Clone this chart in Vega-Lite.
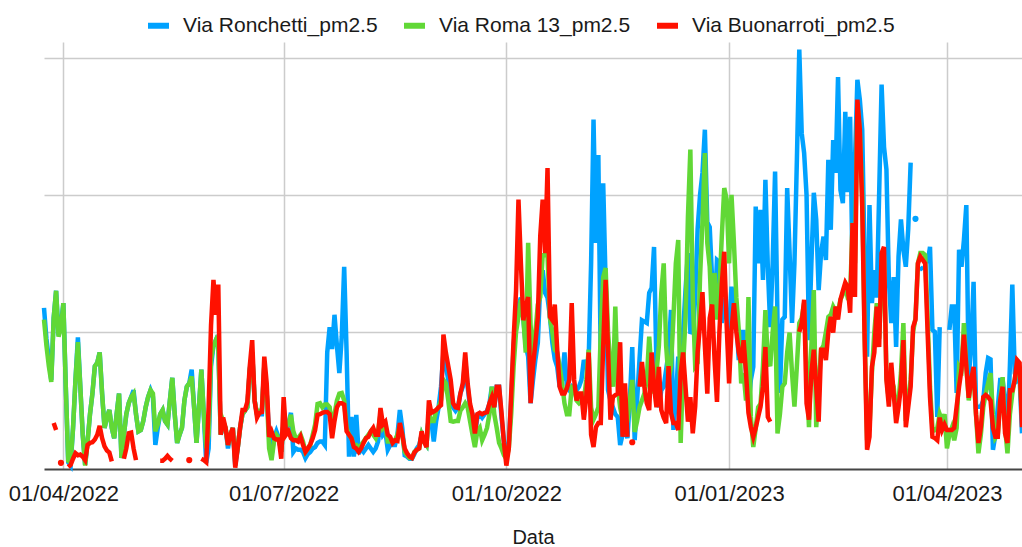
{
"$schema": "https://vega.github.io/schema/vega-lite/v6.json",
"width": 978, "height": 427,
"autosize": {"type": "none"},
"padding": {"left": 44, "top": 42, "right": 0, "bottom": 78},
"background": "white",
"config": {"view": {"stroke": null}, "font": "Liberation Sans"},
"datasets": {
"names": [{"k":"a","name":"Via Ronchetti_pm2.5"},{"k":"b","name":"Via Roma 13_pm2.5"},{"k":"c","name":"Via Buonarroti_pm2.5"}],
"pm": [
{"d":"2022-03-24","a":23.5,"b":21.8,"c":null},
{"d":"2022-03-25","a":19,"b":18,"c":null},
{"d":"2022-03-26","a":16,"b":15,"c":null},
{"d":"2022-03-27","a":13,"b":12.7,"c":null},
{"d":"2022-03-28","a":22,"b":22,"c":6.7},
{"d":"2022-03-29","a":26,"b":26,"c":5.7},
{"d":"2022-03-30","a":19.5,"b":19.3,"c":null},
{"d":"2022-03-31","a":21,"b":20.5,"c":0.9},
{"d":"2022-04-01","a":24.2,"b":24.2,"c":null},
{"d":"2022-04-02","a":12,"b":12,"c":null},
{"d":"2022-04-03","a":1,"b":1.2,"c":0.3},
{"d":"2022-04-04","a":0.5,"b":1,"c":0.6},
{"d":"2022-04-05","a":6,"b":6,"c":1.5},
{"d":"2022-04-06","a":13,"b":13,"c":2.3},
{"d":"2022-04-07","a":19.2,"b":18.5,"c":2},
{"d":"2022-04-08","a":12,"b":12,"c":2.1},
{"d":"2022-04-09","a":5,"b":5,"c":1.8},
{"d":"2022-04-10","a":0.6,"b":0.5,"c":1.3},
{"d":"2022-04-11","a":4,"b":4,"c":3.5},
{"d":"2022-04-12","a":8,"b":8,"c":3.8},
{"d":"2022-04-13","a":11,"b":11,"c":3.9},
{"d":"2022-04-14","a":15,"b":15,"c":4.3},
{"d":"2022-04-15","a":15.5,"b":15.5,"c":5},
{"d":"2022-04-16","a":17,"b":17,"c":6.3},
{"d":"2022-04-17","a":11,"b":11,"c":4.5},
{"d":"2022-04-18","a":6,"b":6,"c":3.3},
{"d":"2022-04-19","a":7.5,"b":7.5,"c":2.7},
{"d":"2022-04-20","a":8.6,"b":8.6,"c":2.4},
{"d":"2022-04-21","a":6,"b":6,"c":1.1},
{"d":"2022-04-22","a":4.5,"b":4.5,"c":null},
{"d":"2022-04-23","a":8,"b":8,"c":null},
{"d":"2022-04-24","a":11,"b":11,"c":null},
{"d":"2022-04-25","a":1.6,"b":1.6,"c":null},
{"d":"2022-04-26","a":5,"b":5,"c":1.5},
{"d":"2022-04-27","a":8,"b":8,"c":3},
{"d":"2022-04-28","a":9.6,"b":9.6,"c":5.2},
{"d":"2022-04-29","a":10.5,"b":10.5,"c":5.3},
{"d":"2022-04-30","a":11.5,"b":11,"c":3},
{"d":"2022-05-01","a":8,"b":8,"c":1.3},
{"d":"2022-05-02","a":5.5,"b":5.5,"c":null},
{"d":"2022-05-03","a":5.7,"b":5.7,"c":null},
{"d":"2022-05-04","a":7,"b":7,"c":null},
{"d":"2022-05-05","a":9,"b":9,"c":null},
{"d":"2022-05-06","a":10.5,"b":10.5,"c":null},
{"d":"2022-05-07","a":11.5,"b":11.5,"c":null},
{"d":"2022-05-08","a":10.5,"b":11,"c":null},
{"d":"2022-05-09","a":3.5,"b":5.5,"c":null},
{"d":"2022-05-10","a":6,"b":6.5,"c":null},
{"d":"2022-05-11","a":8,"b":8,"c":1.2},
{"d":"2022-05-12","a":8.6,"b":8.6,"c":1.2},
{"d":"2022-05-13","a":7,"b":7,"c":1.5},
{"d":"2022-05-14","a":6.5,"b":6.5,"c":1.9},
{"d":"2022-05-15","a":10,"b":10,"c":1.5},
{"d":"2022-05-16","a":13.3,"b":13.3,"c":1.2},
{"d":"2022-05-17","a":8,"b":8,"c":null},
{"d":"2022-05-18","a":3.8,"b":3.8,"c":null},
{"d":"2022-05-19","a":5,"b":5,"c":null},
{"d":"2022-05-20","a":6,"b":6,"c":null},
{"d":"2022-05-21","a":10,"b":10,"c":null},
{"d":"2022-05-22","a":12,"b":12,"c":null},
{"d":"2022-05-23","a":12.5,"b":12.5,"c":1.3},
{"d":"2022-05-24","a":14.5,"b":13.5,"c":null},
{"d":"2022-05-25","a":9,"b":9,"c":null},
{"d":"2022-05-26","a":3.8,"b":3.8,"c":null},
{"d":"2022-05-27","a":9,"b":9,"c":null},
{"d":"2022-05-28","a":14.5,"b":14.5,"c":1.5},
{"d":"2022-05-29","a":8,"b":8,"c":1.3},
{"d":"2022-05-30","a":0.9,"b":3,"c":1},
{"d":"2022-05-31","a":3,"b":5,"c":9},
{"d":"2022-06-01","a":15,"b":16,"c":21},
{"d":"2022-06-02","a":18,"b":18,"c":27.6},
{"d":"2022-06-03","a":18.8,"b":18.8,"c":22.5},
{"d":"2022-06-04","a":17.8,"b":17.8,"c":26.9},
{"d":"2022-06-05","a":5,"b":5,"c":5},
{"d":"2022-06-06","a":6.5,"b":7,"c":7.5},
{"d":"2022-06-07","a":6,"b":6,"c":6},
{"d":"2022-06-08","a":3,"b":3.5,"c":3.5},
{"d":"2022-06-09","a":5,"b":5,"c":5},
{"d":"2022-06-10","a":6,"b":6,"c":6},
{"d":"2022-06-11","a":0.5,"b":1,"c":0.2},
{"d":"2022-06-12","a":3,"b":3,"c":3},
{"d":"2022-06-13","a":6,"b":6,"c":6},
{"d":"2022-06-14","a":8,"b":8,"c":8.6},
{"d":"2022-06-15","a":8.5,"b":8.5,"c":8.6},
{"d":"2022-06-16","a":9,"b":9,"c":9.8},
{"d":"2022-06-17","a":14.5,"b":14.5,"c":15},
{"d":"2022-06-18","a":17,"b":17,"c":18.8},
{"d":"2022-06-19","a":10,"b":10,"c":10},
{"d":"2022-06-20","a":8,"b":8,"c":7.5},
{"d":"2022-06-21","a":8,"b":8.5,"c":8.2},
{"d":"2022-06-22","a":8,"b":8.5,"c":8.3},
{"d":"2022-06-23","a":15,"b":15,"c":16.4},
{"d":"2022-06-24","a":11,"b":11,"c":12.5},
{"d":"2022-06-25","a":5,"b":3,"c":4.7},
{"d":"2022-06-26","a":2,"b":1.3,"c":5.5},
{"d":"2022-06-27","a":4.5,"b":4,"c":4.5},
{"d":"2022-06-28","a":5.5,"b":5,"c":4.3},
{"d":"2022-06-29","a":4.5,"b":4.5,"c":4.3},
{"d":"2022-06-30","a":2.5,"b":2.5,"c":1.5},
{"d":"2022-07-01","a":7,"b":7,"c":10.5},
{"d":"2022-07-02","a":6,"b":6.5,"c":5},
{"d":"2022-07-03","a":6.5,"b":6.5,"c":5.5},
{"d":"2022-07-04","a":8.2,"b":7.9,"c":4.5},
{"d":"2022-07-05","a":2.5,"b":5.5,"c":4.2},
{"d":"2022-07-06","a":3,"b":4.5,"c":4.2},
{"d":"2022-07-07","a":2.8,"b":4.5,"c":4},
{"d":"2022-07-08","a":2.8,"b":5,"c":4.7},
{"d":"2022-07-09","a":2.5,"b":4,"c":3.5},
{"d":"2022-07-10","a":1.6,"b":2.5,"c":2.5},
{"d":"2022-07-11","a":2.2,"b":3,"c":3},
{"d":"2022-07-12","a":2.5,"b":3.5,"c":3.6},
{"d":"2022-07-13","a":3,"b":5,"c":4.5},
{"d":"2022-07-14","a":3.2,"b":6.5,"c":5.7},
{"d":"2022-07-15","a":3.8,"b":9.5,"c":7.9},
{"d":"2022-07-16","a":4,"b":9.6,"c":8},
{"d":"2022-07-17","a":4,"b":9,"c":8.2},
{"d":"2022-07-18","a":3.5,"b":9.4,"c":8.3},
{"d":"2022-07-19","a":17,"b":9.4,"c":8.3},
{"d":"2022-07-20","a":20.7,"b":9,"c":8},
{"d":"2022-07-21","a":17.5,"b":6,"c":4.5},
{"d":"2022-07-22","a":22.5,"b":8,"c":7},
{"d":"2022-07-23","a":18,"b":10,"c":9},
{"d":"2022-07-24","a":14,"b":11,"c":9.6},
{"d":"2022-07-25","a":19.3,"b":11.1,"c":9.6},
{"d":"2022-07-26","a":29.5,"b":10,"c":9.4},
{"d":"2022-07-27","a":17,"b":6,"c":5.5},
{"d":"2022-07-28","a":1.8,"b":5,"c":5},
{"d":"2022-07-29","a":7.6,"b":4.5,"c":4.5},
{"d":"2022-07-30","a":1.8,"b":3.5,"c":3.2},
{"d":"2022-07-31","a":7.9,"b":3.5,"c":3},
{"d":"2022-08-01","a":2.2,"b":3,"c":2.5},
{"d":"2022-08-02","a":3,"b":3.5,"c":3},
{"d":"2022-08-03","a":2.5,"b":4,"c":3.8},
{"d":"2022-08-04","a":3,"b":4.5,"c":4.5},
{"d":"2022-08-05","a":3.5,"b":5,"c":4.7},
{"d":"2022-08-06","a":3,"b":5.5,"c":5.5},
{"d":"2022-08-07","a":2.5,"b":5,"c":6},
{"d":"2022-08-08","a":3,"b":4.5,"c":5},
{"d":"2022-08-09","a":4,"b":5.5,"c":5},
{"d":"2022-08-10","a":7.2,"b":8,"c":8.9},
{"d":"2022-08-11","a":5,"b":6,"c":6.5},
{"d":"2022-08-12","a":5.5,"b":6.5,"c":6.9},
{"d":"2022-08-13","a":2.8,"b":4,"c":5},
{"d":"2022-08-14","a":3.5,"b":4,"c":4.7},
{"d":"2022-08-15","a":3.5,"b":4,"c":3.8},
{"d":"2022-08-16","a":3.5,"b":4.2,"c":4.2},
{"d":"2022-08-17","a":5,"b":5,"c":4.1},
{"d":"2022-08-18","a":8.6,"b":6.5,"c":6.7},
{"d":"2022-08-19","a":6,"b":5,"c":5},
{"d":"2022-08-20","a":2,"b":2.5,"c":3},
{"d":"2022-08-21","a":1.8,"b":2,"c":2.3},
{"d":"2022-08-22","a":1.5,"b":1.6,"c":1.8},
{"d":"2022-08-23","a":1.5,"b":1.6,"c":1.6},
{"d":"2022-08-24","a":2.2,"b":2.5,"c":2.4},
{"d":"2022-08-25","a":3,"b":2.8,"c":2.8},
{"d":"2022-08-26","a":3.5,"b":3,"c":3},
{"d":"2022-08-27","a":5,"b":5,"c":5.5},
{"d":"2022-08-28","a":4,"b":4,"c":4},
{"d":"2022-08-29","a":3.5,"b":3.5,"c":3.2},
{"d":"2022-08-30","a":8,"b":8,"c":10},
{"d":"2022-08-31","a":7,"b":7,"c":8.2},
{"d":"2022-09-01","a":4,"b":7,"c":8.4},
{"d":"2022-09-02","a":7,"b":8.5,"c":8.6},
{"d":"2022-09-03","a":9,"b":9,"c":9},
{"d":"2022-09-04","a":12,"b":10,"c":9.3},
{"d":"2022-09-05","a":17,"b":13,"c":19.6},
{"d":"2022-09-06","a":15,"b":12.5,"c":17},
{"d":"2022-09-07","a":13,"b":10,"c":15},
{"d":"2022-09-08","a":11,"b":7,"c":13},
{"d":"2022-09-09","a":9,"b":6.9,"c":9.6},
{"d":"2022-09-10","a":8.5,"b":7,"c":9},
{"d":"2022-09-11","a":9,"b":7,"c":8.9},
{"d":"2022-09-12","a":11,"b":8.5,"c":11},
{"d":"2022-09-13","a":12,"b":9,"c":12.5},
{"d":"2022-09-14","a":16,"b":9.6,"c":17},
{"d":"2022-09-15","a":12,"b":9,"c":12.5},
{"d":"2022-09-16","a":9,"b":7,"c":9.5},
{"d":"2022-09-17","a":8,"b":5,"c":8},
{"d":"2022-09-18","a":5,"b":3.2,"c":5.2},
{"d":"2022-09-19","a":7.5,"b":5.5,"c":8},
{"d":"2022-09-20","a":8,"b":6,"c":8.2},
{"d":"2022-09-21","a":7.5,"b":4.2,"c":8},
{"d":"2022-09-22","a":8,"b":5,"c":8.2},
{"d":"2022-09-23","a":8.5,"b":6,"c":8.3},
{"d":"2022-09-24","a":9.5,"b":8,"c":9.6},
{"d":"2022-09-25","a":12,"b":12,"c":10.5},
{"d":"2022-09-26","a":9,"b":8,"c":9},
{"d":"2022-09-27","a":12,"b":6,"c":12},
{"d":"2022-09-28","a":12,"b":3.8,"c":12},
{"d":"2022-09-29","a":7.5,"b":3,"c":8.2},
{"d":"2022-09-30","a":4,"b":2,"c":3.8},
{"d":"2022-10-01","a":1.5,"b":1.5,"c":0.5},
{"d":"2022-10-02","a":4,"b":3,"c":3},
{"d":"2022-10-03","a":10,"b":8,"c":11},
{"d":"2022-10-04","a":18,"b":15,"c":19},
{"d":"2022-10-05","a":22,"b":20,"c":26},
{"d":"2022-10-06","a":24,"b":22.2,"c":39.3},
{"d":"2022-10-07","a":25,"b":24.7,"c":30},
{"d":"2022-10-08","a":22,"b":22,"c":21.7},
{"d":"2022-10-09","a":18,"b":17,"c":23.7},
{"d":"2022-10-10","a":16.4,"b":33,"c":25.1},
{"d":"2022-10-11","a":9.6,"b":21,"c":9.6},
{"d":"2022-10-12","a":13,"b":16.4,"c":15},
{"d":"2022-10-13","a":16,"b":20,"c":18.4},
{"d":"2022-10-14","a":18.4,"b":24,"c":22.2},
{"d":"2022-10-15","a":27,"b":25.1,"c":34},
{"d":"2022-10-16","a":29,"b":31.2,"c":39.3},
{"d":"2022-10-17","a":25.7,"b":31.2,"c":31.5},
{"d":"2022-10-18","a":25,"b":31.2,"c":43.9},
{"d":"2022-10-19","a":22.2,"b":22,"c":22.2},
{"d":"2022-10-20","a":18.4,"b":20,"c":21.7},
{"d":"2022-10-21","a":16,"b":17.4,"c":24},
{"d":"2022-10-22","a":14.9,"b":17,"c":17.4},
{"d":"2022-10-23","a":12,"b":15,"c":12},
{"d":"2022-10-24","a":13,"b":12.5,"c":11},
{"d":"2022-10-25","a":17,"b":9.6,"c":11},
{"d":"2022-10-26","a":12,"b":8,"c":11.8},
{"d":"2022-10-27","a":11.5,"b":8,"c":13},
{"d":"2022-10-28","a":12,"b":12,"c":24.2},
{"d":"2022-10-29","a":11.5,"b":12,"c":13},
{"d":"2022-10-30","a":11.5,"b":10,"c":10},
{"d":"2022-10-31","a":12,"b":9.6,"c":11},
{"d":"2022-11-01","a":13,"b":10,"c":11},
{"d":"2022-11-02","a":15.9,"b":10,"c":7.2},
{"d":"2022-11-03","a":15,"b":13,"c":10.5},
{"d":"2022-11-04","a":16,"b":17.4,"c":17},
{"d":"2022-11-05","a":30,"b":9,"c":5},
{"d":"2022-11-06","a":51,"b":7.2,"c":3.2},
{"d":"2022-11-07","a":33,"b":8,"c":6.1},
{"d":"2022-11-08","a":45.8,"b":9,"c":6.7},
{"d":"2022-11-09","a":14.9,"b":20,"c":6.7},
{"d":"2022-11-10","a":41.7,"b":28,"c":18},
{"d":"2022-11-11","a":27.2,"b":29.3,"c":27.6},
{"d":"2022-11-12","a":11.5,"b":20,"c":17.4},
{"d":"2022-11-13","a":10,"b":14.9,"c":7.2},
{"d":"2022-11-14","a":9,"b":12,"c":10.5},
{"d":"2022-11-15","a":8,"b":23.7,"c":10.8},
{"d":"2022-11-16","a":7.6,"b":12,"c":11},
{"d":"2022-11-17","a":3.5,"b":9,"c":18.5},
{"d":"2022-11-18","a":5,"b":7.2,"c":4.7},
{"d":"2022-11-19","a":6,"b":5.7,"c":12.5},
{"d":"2022-11-20","a":4.5,"b":7,"c":4.7},
{"d":"2022-11-21","a":10,"b":10,"c":null},
{"d":"2022-11-22","a":17.8,"b":13,"c":3.9},
{"d":"2022-11-23","a":4.2,"b":5.4,"c":null},
{"d":"2022-11-24","a":10,"b":7,"c":null},
{"d":"2022-11-25","a":16,"b":9,"c":12},
{"d":"2022-11-26","a":21.7,"b":10,"c":15.6},
{"d":"2022-11-27","a":21.5,"b":11,"c":12},
{"d":"2022-11-28","a":21.3,"b":13,"c":9.6},
{"d":"2022-11-29","a":25.7,"b":19.3,"c":8.6},
{"d":"2022-11-30","a":26.4,"b":14,"c":17},
{"d":"2022-12-01","a":32.4,"b":11,"c":12},
{"d":"2022-12-02","a":14.9,"b":14,"c":9},
{"d":"2022-12-03","a":9,"b":18,"c":14.9},
{"d":"2022-12-04","a":11.5,"b":25.7,"c":8.6},
{"d":"2022-12-05","a":12,"b":30,"c":7.5},
{"d":"2022-12-06","a":14.5,"b":18,"c":6.7},
{"d":"2022-12-07","a":17,"b":13,"c":15},
{"d":"2022-12-08","a":23.2,"b":15,"c":8.2},
{"d":"2022-12-09","a":5.7,"b":22,"c":6.7},
{"d":"2022-12-10","a":10,"b":30,"c":6.7},
{"d":"2022-12-11","a":16.4,"b":33.4,"c":5.7},
{"d":"2022-12-12","a":9,"b":3.8,"c":14},
{"d":"2022-12-13","a":20,"b":15,"c":17},
{"d":"2022-12-14","a":26.1,"b":22,"c":12},
{"d":"2022-12-15","a":31.5,"b":36.8,"c":6.9},
{"d":"2022-12-16","a":20,"b":46.6,"c":10.5},
{"d":"2022-12-17","a":19.9,"b":25,"c":5.2},
{"d":"2022-12-18","a":25,"b":15,"c":9.1},
{"d":"2022-12-19","a":35,"b":15.5,"c":17},
{"d":"2022-12-20","a":40,"b":28,"c":21},
{"d":"2022-12-21","a":43.2,"b":36,"c":25.8},
{"d":"2022-12-22","a":49.5,"b":46.1,"c":18},
{"d":"2022-12-23","a":36,"b":33,"c":11},
{"d":"2022-12-24","a":35.3,"b":29.5,"c":22},
{"d":"2022-12-25","a":27.6,"b":20.7,"c":24},
{"d":"2022-12-26","a":22.8,"b":28.6,"c":16},
{"d":"2022-12-27","a":30.5,"b":21.8,"c":9.8},
{"d":"2022-12-28","a":30.2,"b":26,"c":20},
{"d":"2022-12-29","a":21.3,"b":34,"c":27},
{"d":"2022-12-30","a":25,"b":41,"c":31.7},
{"d":"2022-12-31","a":22,"b":39.3,"c":21},
{"d":"2023-01-01","a":20.3,"b":30,"c":12.5},
{"d":"2023-01-02","a":26.6,"b":40,"c":20.3},
{"d":"2023-01-03","a":24,"b":33,"c":24.2},
{"d":"2023-01-04","a":21.8,"b":25,"c":20},
{"d":"2023-01-05","a":15.9,"b":20.3,"c":17},
{"d":"2023-01-06","a":20,"b":12.5,"c":15.5},
{"d":"2023-01-07","a":20,"b":14,"c":18.8},
{"d":"2023-01-08","a":14,"b":10,"c":14},
{"d":"2023-01-09","a":9.1,"b":25.1,"c":8.2},
{"d":"2023-01-10","a":13,"b":7.6,"c":6.1},
{"d":"2023-01-11","a":14.9,"b":3.2,"c":4.7},
{"d":"2023-01-12","a":38.3,"b":6,"c":6},
{"d":"2023-01-13","a":30,"b":9,"c":7.6},
{"d":"2023-01-14","a":37.8,"b":9.5,"c":9.1},
{"d":"2023-01-15","a":27.6,"b":15,"c":12},
{"d":"2023-01-16","a":42.2,"b":23.2,"c":17.8},
{"d":"2023-01-17","a":29.5,"b":15.9,"c":7.6},
{"d":"2023-01-18","a":20.7,"b":15,"c":6.9},
{"d":"2023-01-19","a":30,"b":20,"c":null},
{"d":"2023-01-20","a":43.4,"b":23.7,"c":null},
{"d":"2023-01-21","a":21.8,"b":5.2,"c":null},
{"d":"2023-01-22","a":11.1,"b":8,"c":null},
{"d":"2023-01-23","a":21.8,"b":12,"c":null},
{"d":"2023-01-24","a":22.2,"b":12.5,"c":null},
{"d":"2023-01-25","a":41,"b":17,"c":null},
{"d":"2023-01-26","a":31.5,"b":19.9,"c":null},
{"d":"2023-01-27","a":21.3,"b":14,"c":null},
{"d":"2023-01-28","a":30,"b":9.1,"c":null},
{"d":"2023-01-29","a":45,"b":15,"c":null},
{"d":"2023-01-30","a":61.2,"b":21.3,"c":20},
{"d":"2023-01-31","a":49,"b":22,"c":21.3},
{"d":"2023-02-01","a":46.1,"b":24.2,"c":24.7},
{"d":"2023-02-02","a":40,"b":15,"c":9.6},
{"d":"2023-02-03","a":18.8,"b":6.1,"c":7.2},
{"d":"2023-02-04","a":30,"b":18,"c":14},
{"d":"2023-02-05","a":40.3,"b":26.1,"c":17.4},
{"d":"2023-02-06","a":36.4,"b":6.1,"c":12},
{"d":"2023-02-07","a":26.1,"b":12,"c":6.9},
{"d":"2023-02-08","a":31.5,"b":17.4,"c":17.4},
{"d":"2023-02-09","a":33.9,"b":18,"c":17.4},
{"d":"2023-02-10","a":30.5,"b":20,"c":15.9},
{"d":"2023-02-11","a":45.1,"b":22.2,"c":20},
{"d":"2023-02-12","a":34.9,"b":22.5,"c":22.2},
{"d":"2023-02-13","a":48,"b":23.7,"c":19.9},
{"d":"2023-02-14","a":43.2,"b":23,"c":23.7},
{"d":"2023-02-15","a":57.2,"b":23,"c":21.8},
{"d":"2023-02-16","a":40.7,"b":24.7,"c":24.7},
{"d":"2023-02-17","a":38.8,"b":25.5,"c":26},
{"d":"2023-02-18","a":52.1,"b":26.6,"c":27.2},
{"d":"2023-02-19","a":40.4,"b":25,"c":26.6},
{"d":"2023-02-20","a":51.4,"b":25.1,"c":22.8},
{"d":"2023-02-21","a":29,"b":35.9,"c":35.9},
{"d":"2023-02-22","a":45,"b":30,"c":25.1},
{"d":"2023-02-23","a":56.8,"b":53,"c":53.9},
{"d":"2023-02-24","a":53.9,"b":49.5,"c":49.5},
{"d":"2023-02-25","a":49.5,"b":40,"c":38.3},
{"d":"2023-02-26","a":30,"b":20,"c":18.8},
{"d":"2023-02-27","a":16.4,"b":4.2,"c":2.8},
{"d":"2023-02-28","a":38.5,"b":6,"c":4.7},
{"d":"2023-03-01","a":24.2,"b":14,"c":14.9},
{"d":"2023-03-02","a":29,"b":20,"c":17},
{"d":"2023-03-03","a":25,"b":24.2,"c":23.7},
{"d":"2023-03-04","a":40.3,"b":19,"c":17.8},
{"d":"2023-03-05","a":56.1,"b":28,"c":31.5},
{"d":"2023-03-06","a":47,"b":31,"c":32.4},
{"d":"2023-03-07","a":43.7,"b":13.4,"c":13},
{"d":"2023-03-08","a":27.6,"b":10,"c":9.1},
{"d":"2023-03-09","a":21.3,"b":13,"c":15.5},
{"d":"2023-03-10","a":28,"b":12,"c":11},
{"d":"2023-03-11","a":17.8,"b":8,"c":6.7},
{"d":"2023-03-12","a":31,"b":10,"c":9},
{"d":"2023-03-13","a":36.4,"b":14,"c":12},
{"d":"2023-03-14","a":32,"b":21.3,"c":18.8},
{"d":"2023-03-15","a":29.5,"b":7,"c":6.1},
{"d":"2023-03-16","a":35,"b":10,"c":9},
{"d":"2023-03-17","a":44.7,"b":13,"c":12},
{"d":"2023-03-18","a":null,"b":20,"c":20.7},
{"d":"2023-03-19","a":36.5,"b":22,"c":21.8},
{"d":"2023-03-20","a":null,"b":30,"c":30},
{"d":"2023-03-21","a":29.5,"b":31.5,"c":31},
{"d":"2023-03-22","a":29,"b":31.5,"c":30.5},
{"d":"2023-03-23","a":null,"b":31.2,"c":30},
{"d":"2023-03-24","a":30,"b":22,"c":20},
{"d":"2023-03-25","a":32.4,"b":12,"c":10.5},
{"d":"2023-03-26","a":20.3,"b":6,"c":4.7},
{"d":"2023-03-27","a":20,"b":5.7,"c":4.5},
{"d":"2023-03-28","a":7.6,"b":6,"c":4.2},
{"d":"2023-03-29","a":20.7,"b":8,"c":7.5},
{"d":"2023-03-30","a":null,"b":7,"c":5.7},
{"d":"2023-03-31","a":null,"b":8,"c":6.5},
{"d":"2023-04-01","a":null,"b":3,"c":5.7},
{"d":"2023-04-02","a":20.3,"b":5,"c":5.7},
{"d":"2023-04-03","a":23.7,"b":6,"c":5.7},
{"d":"2023-04-04","a":23.7,"b":4.2,"c":6},
{"d":"2023-04-05","a":11.1,"b":6,"c":9.1},
{"d":"2023-04-06","a":32,"b":15,"c":12},
{"d":"2023-04-07","a":29.5,"b":14.5,"c":14.5},
{"d":"2023-04-08","a":33.4,"b":21.3,"c":19.6},
{"d":"2023-04-09","a":38.5,"b":15,"c":15},
{"d":"2023-04-10","a":13.4,"b":10,"c":10.4},
{"d":"2023-04-11","a":18,"b":13,"c":13},
{"d":"2023-04-12","a":27.3,"b":14,"c":14.9},
{"d":"2023-04-13","a":9.1,"b":8,"c":8},
{"d":"2023-04-14","a":9.1,"b":2.3,"c":3.8},
{"d":"2023-04-15","a":9.1,"b":5,"c":6.1},
{"d":"2023-04-16","a":10,"b":9,"c":10.5},
{"d":"2023-04-17","a":14,"b":11,"c":10.8},
{"d":"2023-04-18","a":16.2,"b":12.5,"c":10.5},
{"d":"2023-04-19","a":16,"b":14,"c":10},
{"d":"2023-04-20","a":2.8,"b":8,"c":6},
{"d":"2023-04-21","a":5,"b":4.5,"c":4.7},
{"d":"2023-04-22","a":9,"b":5,"c":4.7},
{"d":"2023-04-23","a":13,"b":10,"c":10},
{"d":"2023-04-24","a":13,"b":13.4,"c":12},
{"d":"2023-04-25","a":10,"b":6,"c":5.2},
{"d":"2023-04-26","a":5.2,"b":2.3,"c":3.8},
{"d":"2023-04-27","a":15,"b":8,"c":11.5},
{"d":"2023-04-28","a":26.9,"b":11,"c":11.5},
{"d":"2023-04-29","a":14,"b":13,"c":13},
{"d":"2023-04-30","a":13,"b":15,"c":15.9},
{"d":"2023-05-01","a":13.5,"b":14,"c":15.5},
{"d":"2023-05-02","a":5.2,"b":8,"c":6.1}
]},
"data": {"name": "pm"},
"transform": [
  {"fold": ["a", "b", "c"], "as": ["k", "v"]},
  {"lookup": "k", "from": {"data": {"name": "names"}, "key": "k", "fields": ["name"]}}
],
"encoding": {
  "x": {"field": "d", "type": "temporal",
    "scale": {"type": "utc", "nice": false, "domain": [{"year": 2022, "month": 3, "date": 24, "utc": true}, {"year": 2023, "month": 5, "date": 2, "utc": true}]},
    "axis": {"values": [{"year": 2022, "month": 4, "date": 1, "utc": true}, {"year": 2022, "month": 7, "date": 1, "utc": true}, {"year": 2022, "month": 10, "date": 1, "utc": true}, {"year": 2023, "month": 1, "date": 1, "utc": true}, {"year": 2023, "month": 4, "date": 1, "utc": true}],
      "format": "%d/%m/%Y", "labelFont": "Liberation Sans", "labelFontSize": 22, "labelColor": "#1a1a1a",
      "ticks": false, "tickSize": 0, "labelPadding": 14, "labelOverlap": false, "labelFlush": false, "labelBound": false,
      "domainColor": "#444444", "domainWidth": 2, "grid": true, "gridColor": "#cccccc", "gridWidth": 1.5,
      "title": "Data", "titleFont": "Liberation Sans", "titleFontSize": 20, "titleFontWeight": "normal", "titleColor": "#1a1a1a", "titlePadding": 23}},
  "y": {"field": "v", "type": "quantitative",
    "scale": {"domain": [0, 62.3], "nice": false},
    "axis": {"values": [20, 40, 60], "labels": false, "ticks": false, "domain": false, "title": null, "grid": true, "gridColor": "#cccccc", "gridWidth": 1.5}},
  "color": {"field": "name", "type": "nominal",
    "scale": {"domain": ["Via Ronchetti_pm2.5", "Via Roma 13_pm2.5", "Via Buonarroti_pm2.5"], "range": ["#00A2FF", "#61D836", "#FF1100"]},
    "legend": {"orient": "none", "direction": "horizontal", "columns": 3, "legendX": 101, "legendY": -30, "title": null,
      "symbolType": "stroke", "symbolSize": 441, "symbolStrokeWidth": 6, "padding": 0,
      "labelFont": "Liberation Sans", "labelFontSize": 21, "labelColor": "#1a1a1a", "labelOffset": 11, "columnPadding": 14, "labelLimit": 0}}
},
"layer": [
  {"mark": {"type": "line", "strokeWidth": 4.5, "invalid": "break-paths-filter-domains"}},
  {"transform": [
     {"window": [{"op": "lag", "field": "v", "as": "prev"}, {"op": "lead", "field": "v", "as": "next"}], "groupby": ["k"], "sort": [{"field": "d"}]},
     {"filter": "datum.v != null && datum.prev == null && datum.next == null"}
   ],
   "mark": {"type": "circle", "size": 38, "opacity": 1},
   "encoding": {"color": {"field": "name", "type": "nominal", "legend": null}}}
]
}
